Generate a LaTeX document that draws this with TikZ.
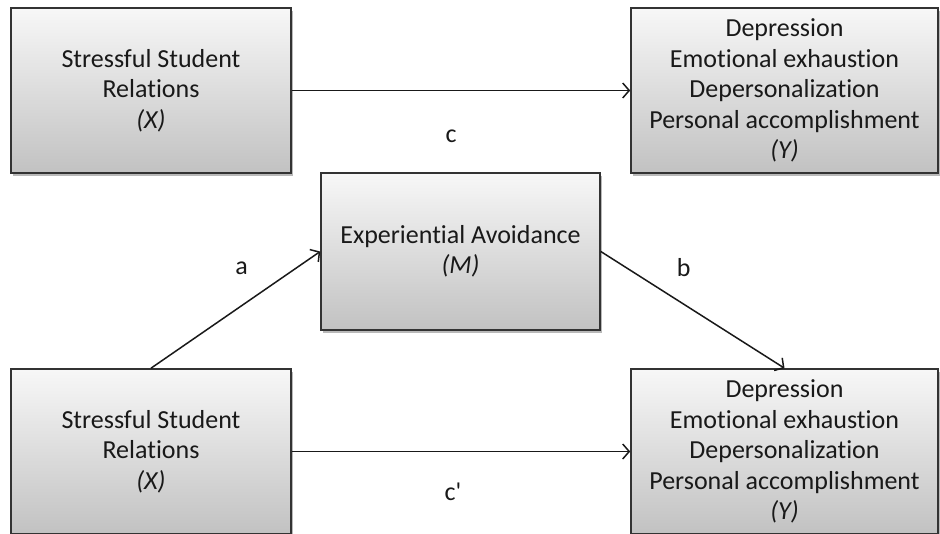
\documentclass[tikz,border=0pt]{standalone}
\usepackage{fontspec}
\setmainfont{Carlito}[Ligatures={NoCommon}]
\usetikzlibrary{positioning, arrows.meta, shadows}

\begin{document}
\begin{tikzpicture}[x=1pt, y=-1pt]
\tikzset{
    every node/.style={align=center, text=black!90, font=\fontsize{26}{30.5}\selectfont},
    varbox/.style={draw=black!80, line width=1.6pt, top color=gray!6, bottom color=gray!48,
        drop shadow={shadow xshift=2pt, shadow yshift=-2.5pt, fill=black!55},
        minimum width=280pt, minimum height=165pt, inner sep=0pt},
    outbox/.style={varbox, minimum width=307pt},
    link/.style={-{Straight Barb[length=6.5pt, width=15pt, line width=1.5pt]}, line width=1.5pt, black!90}
}
\useasboundingbox (0,0) rectangle (940,533);
\clip (0,0) rectangle (940,533);

% total effect
\node[varbox] (stressTop) at (151,90.5) {Stressful Student\\Relations\\\textit{(X)}};
\node[outbox] (outTop) at (784.5,90.5) {Depression\\Emotional exhaustion\\Depersonalization\\Personal accomplishment\\\textit{(Y)}};

% mediation model
\node[varbox, minimum width=279pt, minimum height=157pt] (avoid) at (460.5,251.5) {Experiential Avoidance\\\textit{(M)}};
\node[varbox] (stressBot) at (151,451.5) {Stressful Student\\Relations\\\textit{(X)}};
\node[outbox] (outBot) at (784.5,451.5) {Depression\\Emotional exhaustion\\Depersonalization\\Personal accomplishment\\\textit{(Y)}};

\draw[link] (stressTop) -- (outTop) node[midway, xshift=-10pt, yshift=-46pt] {c};
\draw[link] (stressBot.north) -- (avoid.west) node[midway, xshift=6pt, yshift=42pt] {a};
\draw[link] (avoid.east) -- (outBot.north) node[midway, xshift=-9pt, yshift=42pt] {b};
\draw[link] (stressBot) -- (outBot) node[midway, xshift=-8pt, yshift=-40pt] {c\textquotesingle};
\end{tikzpicture}
\end{document}
